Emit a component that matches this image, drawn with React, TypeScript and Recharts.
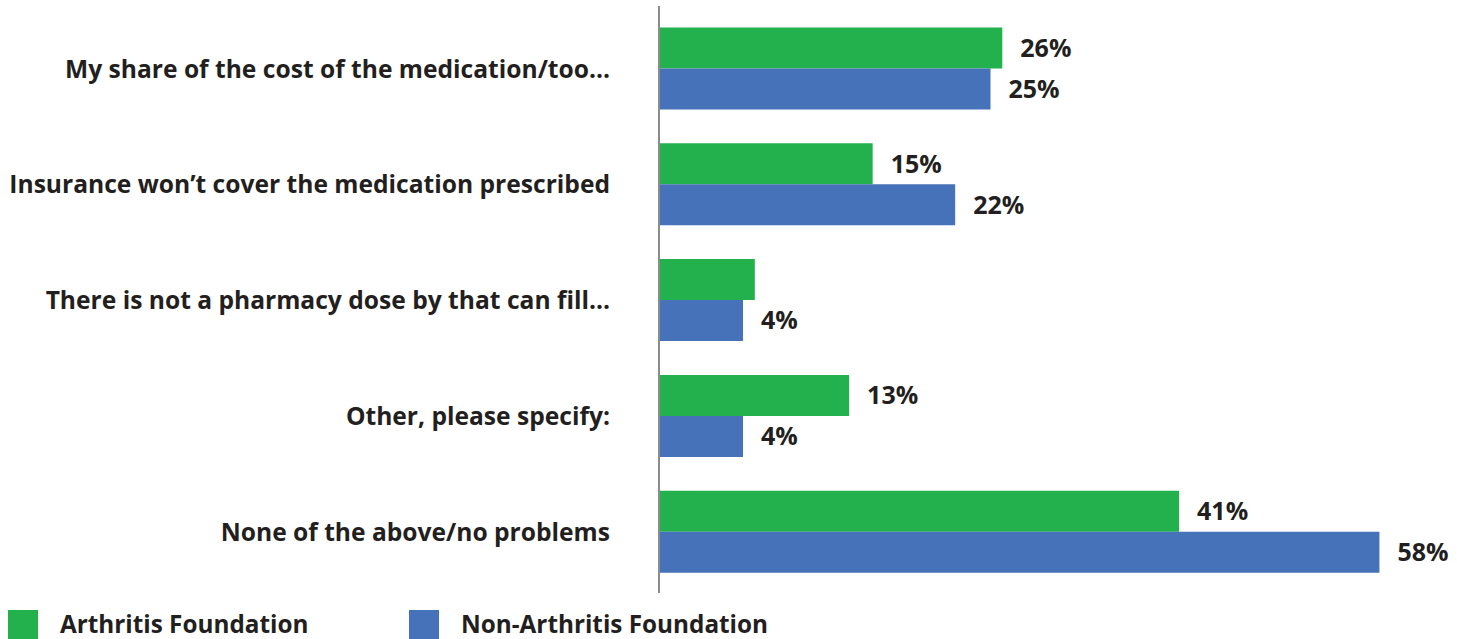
import React from 'react';
import { BarChart, Bar, XAxis, YAxis, LabelList } from 'recharts';

const categories = [
  'My share of the cost of the medication/too...',
  'Insurance won’t cover the medication prescribed',
  'There is not a pharmacy dose by that can fill...',
  'Other, please specify:',
  'None of the above/no problems',
];
const arthritisValues = [26, 15, 5, 13, 41];
const nonArthritisValues = [25, 22, 4, 4, 58];
const arthritisLabels = ['26%', '15%', '', '13%', '41%'];
const nonArthritisLabels = ['25%', '22%', '4%', '4%', '58%'];
const seriesNames = ['Arthritis Foundation', 'Non-Arthritis Foundation'];
const seriesColors = ['#22B14C', '#4672B9'];
// value axis crossing (bars start at the axis minimum)
const axisMin = -3.13;
const axisMax = 60;

const data = categories.map((category, i) => ({
  category,
  af: arthritisValues[i],
  naf: nonArthritisValues[i],
  afLabel: arthritisLabels[i],
  nafLabel: nonArthritisLabels[i],
}));

const FONT = '"Open Sans", Lato, sans-serif';
const TEXT = '#231f20';

const labelStyle = { fill: TEXT, fontSize: 25, fontWeight: 700, fontFamily: FONT };

export default function App() {
  return (
    <div
      style={{
        position: 'absolute',
        left: 0,
        top: 0,
        width: 1457,
        height: 639,
        background: '#fff',
        overflow: 'hidden',
        fontFamily: FONT,
      }}
    >
      <BarChart
        width={1457}
        height={639}
        data={data}
        layout="vertical"
        margin={{ top: 6, right: 54, bottom: 46, left: 0 }}
        barCategoryGap={16.5}
        barGap={0}
      >
        <XAxis type="number" domain={[axisMin, axisMax]} hide allowDataOverflow />
        <YAxis
          type="category"
          dataKey="category"
          width={659}
          axisLine={{ stroke: '#8c8c8c', strokeWidth: 2 }}
          tickLine={false}
          tickSize={0}
          tickMargin={49}
          padding={{ top: 5, bottom: 3 }}
          interval={0}
          tick={{ fill: TEXT, fontSize: 24.6, fontWeight: 700, fontFamily: FONT }}
        />
        <Bar
          dataKey={(d: any) => [axisMin, d.af]}
          name={seriesNames[0]}
          fill={seriesColors[0]}
          isAnimationActive={false}
        >
          <LabelList dataKey="afLabel" position="right" offset={18} style={labelStyle} />
        </Bar>
        <Bar
          dataKey={(d: any) => [axisMin, d.naf]}
          name={seriesNames[1]}
          fill={seriesColors[1]}
          isAnimationActive={false}
        >
          <LabelList dataKey="nafLabel" position="right" offset={18} style={labelStyle} />
        </Bar>
      </BarChart>
      <div style={{ position: 'absolute', left: 8, top: 610, display: 'flex' }}>
        {seriesNames.map((name, i) => (
          <div key={name} style={{ width: 401, height: 29, display: 'flex', alignItems: 'center' }}>
            <div style={{ width: 30, height: 29, background: seriesColors[i], flexShrink: 0 }} />
            <span
              style={{
                marginLeft: 22,
                fontSize: 24.3,
                lineHeight: 1,
                fontWeight: 700,
                color: TEXT,
                whiteSpace: 'nowrap',
              }}
            >
              {name}
            </span>
          </div>
        ))}
      </div>
    </div>
  );
}
